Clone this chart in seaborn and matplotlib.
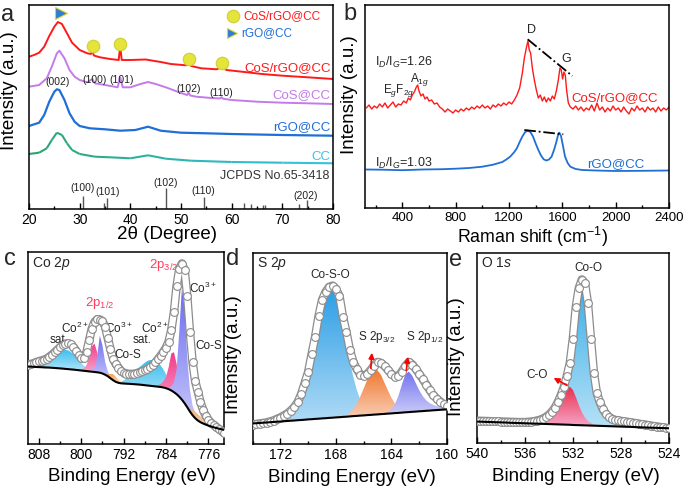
import numpy as np
import matplotlib
matplotlib.use("Agg")
import matplotlib.pyplot as plt
import seaborn as sns
from matplotlib.collections import LineCollection
from matplotlib.colors import LinearSegmentedColormap, to_rgb
from matplotlib.patches import PathPatch
from matplotlib.path import Path
from matplotlib.ticker import MultipleLocator

W, H = 685, 491

# --------------------------------------------------------------------------- #
# (a) XRD patterns (intensity in arbitrary, offset units)
# --------------------------------------------------------------------------- #
xrd_cosrgo_x = [20, 21, 22, 23, 24, 25, 25.7, 26.5, 27.5, 28.5, 30, 31.5, 32.2, 32.5,
                32.8, 34, 36, 37.7, 38.0, 38.3, 40, 43, 46, 48, 51, 51.5, 52, 54, 57,
                58, 59, 62, 66, 70, 75, 80]
xrd_cosrgo_y = [152.3, 154, 156.3, 162.3, 173, 182.3, 187, 185, 175.7, 166.3, 159, 155.7,
                155, 158, 153.5, 151.7, 150, 149, 163, 149, 149, 149.5, 147, 145, 143.7,
                147, 143, 140.7, 139.7, 141.7, 139, 137.3, 135, 133.3, 131.7, 130]
xrd_cos_x = [20, 22, 23.5, 24.5, 25.5, 26, 27, 28, 29, 30, 31.5, 32.5, 33, 35, 37.5, 38,
             38.5, 40, 42, 43.5, 45, 47, 50, 51.2, 51.5, 51.8, 53, 56, 57.7, 58, 58.3, 60,
             65, 70, 75, 80]
xrd_cos_y = [122.3, 124, 130.7, 142.3, 155.7, 158.3, 150.7, 139, 132.3, 129, 126.7, 130,
             125.7, 124, 121.7, 131.7, 121.7, 121.7, 125, 127, 125, 121.7, 116, 114,
             116.5, 113.5, 112.3, 111, 110.5, 111.8, 110.3, 109, 107.3, 106.3, 105.7, 105]
xrd_rgo_x = [20, 22, 23, 24, 25, 25.5, 26, 27, 28, 29, 30, 32, 35, 38, 41, 43.5, 46, 50,
             55, 60, 70, 80]
xrd_rgo_y = [83, 86.3, 94, 107.3, 117.3, 119.7, 119, 109, 95.7, 87.3, 83, 80.7, 79.7,
             78.3, 79, 82.3, 78.3, 76.3, 75.7, 75, 74, 73.3]
xrd_cc_x = [20, 22, 23.5, 24.5, 25.5, 26.5, 27.5, 28.5, 30, 33, 36, 40, 43.5, 47, 52, 60,
            70, 80]
xrd_cc_y = [55, 56.3, 60.7, 69, 76.3, 74, 65.7, 59, 55, 52.3, 51.7, 50.7, 53.7, 50.3,
            48.3, 47, 46.3, 45.7]
jcpds_pos = [30.6, 34.8, 35.3, 47.0, 54.5, 62.4, 63.8, 66.2, 66.6, 73.2, 74.8]
jcpds_h = [13, 6, 11, 21, 12, 6, 5, 4, 4, 5, 9]
cos_peaks_x = [32.6, 38.0, 51.5, 58.0]
cos_peaks_y = [163, 164.7, 149.7, 146.3]

# --------------------------------------------------------------------------- #
# (b) Raman spectra
# --------------------------------------------------------------------------- #
raman_cosrgo_x = [130, 150, 170, 190, 210, 230, 250, 270, 290, 310, 330, 350, 370, 390,
                  410, 430, 445, 460, 475, 490, 505, 515, 525, 540, 555, 570, 585, 600,
                  620, 640, 660, 680, 700, 720, 740, 760, 780, 800, 820, 840, 860, 880,
                  900, 920, 940, 960, 980, 1000, 1020, 1040, 1060, 1080, 1100, 1120, 1140,
                  1160, 1180, 1200, 1220, 1240, 1260, 1280, 1300, 1315, 1330, 1342, 1352,
                  1362, 1375, 1390, 1405, 1420, 1435, 1450, 1465, 1480, 1495, 1510, 1525,
                  1540, 1555, 1570, 1582, 1592, 1602, 1612, 1622, 1632, 1645, 1660, 1680,
                  1700, 1720, 1740, 1760, 1780, 1800, 1820, 1840, 1860, 1880, 1900, 1920,
                  1940, 1960, 1980, 2000, 2020, 2040, 2060, 2080, 2100, 2120, 2140, 2160,
                  2180, 2200, 2220, 2240, 2260, 2280, 2300, 2320, 2340, 2360, 2380, 2400]
raman_cosrgo_y = [100, 103, 99, 102, 100, 104, 101, 105, 100, 103, 106, 101, 104, 103,
                  107, 105, 110, 108, 113, 116, 121, 123, 117, 112, 114, 109, 111, 107,
                  108, 104, 105, 101, 99, 96, 99, 97, 95, 98, 96, 99, 97, 100,
                  98, 101, 99, 102, 100, 103, 100, 102, 99, 103, 101, 104, 102,
                  105, 103, 106, 104, 108, 113, 120, 135, 150, 160, 167, 158,
                  155, 140, 128, 118, 110, 113, 107, 111, 106, 110, 107, 112,
                  109, 117, 128, 140, 138, 129, 136, 133, 118, 105, 101, 99,
                  102, 98, 101, 97, 100, 98, 103, 97, 105, 98, 101, 96,
                  100, 97, 102, 98, 100, 96, 101, 97, 94, 100, 97, 102,
                  98, 100, 96, 101, 98, 100, 96, 101, 97, 100, 98, 101]
raman_rgo_x = [130, 250, 400, 550, 700, 800, 900, 1000, 1080, 1150, 1180, 1210, 1240, 1260,
               1280, 1300, 1320, 1340, 1360, 1380, 1400, 1420, 1440, 1460, 1480, 1500,
               1520, 1540, 1555, 1570, 1578, 1590, 1605, 1620, 1640, 1660, 1700, 1750,
               1850, 2000, 2200, 2400]
raman_rgo_y = [38.5, 38.3, 37.8, 38.5, 38.8, 39.3, 40, 41.3, 43.3, 46, 48.5, 51.5, 56, 60,
               66, 71.5, 75.8, 77.3, 76, 71.5, 64.5, 58, 52.5, 48.7, 47.5, 48.5,
               51.5, 59, 66, 74, 75.3, 72, 62, 51.5, 45, 41.3, 39, 38,
               37.5, 37, 37.2, 37.5]

# --------------------------------------------------------------------------- #
# (c) Co 2p XPS, 0.5 eV steps from 810 to 773 eV
# --------------------------------------------------------------------------- #
co_bg = [77.5, 77.3, 77.2, 77.0, 76.9, 76.8, 76.6, 76.5, 76.4, 76.2,
         76.0, 75.8, 75.6, 75.4, 75.1, 74.9, 74.6, 74.4, 74.1, 73.8,
         73.5, 73.2, 72.9, 72.6, 72.3, 72.0, 71.7, 71.3, 70.5, 69.3,
         67.8, 65.8, 63.8, 62.2, 61.2, 60.7, 60.5, 60.3, 60.2, 60.0,
         59.8, 59.6, 59.4, 59.1, 58.8, 58.5, 58.2, 57.9, 57.6, 57.3,
         57.0, 56.5, 55.8, 54.8, 53.5, 51.8, 49.8, 47.3, 44.3, 40.8,
         36.8, 32.5, 28.8, 25.8, 23.5, 21.8, 20.5, 19.4, 18.4, 17.5,
         16.7, 16.0, 15.3, 14.7, 14.2]
co_env = [79.5, 80, 80.8, 81.8, 82.8, 83.5, 84.3, 85.5, 87.3, 89.5,
          91.8, 94.3, 96.8, 99, 100.3, 100.7, 99.8, 97.2, 93.5, 89.2,
          86, 86.3, 92, 104, 115.5, 122, 124.7, 124.5, 122.8, 117.5,
          106, 95, 85.5, 80, 76.5, 73, 71.3, 70.5, 70.1, 70,
          70.2, 70.8, 71.8, 72.8, 73.8, 75, 76.7, 78.8, 81.6, 85,
          88.5, 92.3, 96.5, 102.5, 114, 132, 158, 175, 180.5, 174,
          148, 112, 82, 63, 52.5, 42, 34, 28, 24.3, 21,
          19.2, 16.8, 15, 12.8, 11]
# components: height above background, starting at the given energy
co_sat1_start, co_sat1 = 810.0, [1.5, 2, 2.5, 3, 3.5, 4.5, 5.5, 7, 9, 11, 13.5, 15.5, 17.3,
                                 18.5, 19, 18.7, 17.5, 15.5, 12.8, 10, 7.3, 5, 3.2, 2,
                                 1.2, 0.6, 0]
co_2p1_co2_start, co_2p1_co2 = 800.0, [1, 2.5, 6, 14, 25, 28.5, 20, 10, 4.5, 2, 1, 0]
co_2p1_co3_start, co_2p1_co3 = 798.0, [1, 4, 16, 37, 28, 13, 5, 2, 0.5, 0]
co_2p1_cos_start, co_2p1_cos = 795.5, [0.5, 2, 4.5, 6, 5, 3, 1.5, 0.5, 0]
co_sat2_start, co_sat2 = 793.0, [0.5, 1.5, 3, 5, 7.5, 10, 12.5, 15, 17.5, 20, 22.5, 24.5,
                                 25.8, 26, 25.5, 24, 21.5, 18, 14, 10, 6.5, 4, 2, 1, 0]
co_2p3_co2_start, co_2p3_co2 = 786.0, [0.5, 1.5, 3, 6, 11, 22, 37, 40, 30, 19, 11, 6.5, 4,
                                       2.5, 1.5, 1, 0.5, 0]
co_2p3_co3_start, co_2p3_co3 = 783.5, [1.5, 4, 10, 25, 65, 112, 95, 50, 22, 10, 5, 2.5,
                                       1.2, 0.5, 0]
co_2p3_cos_start, co_2p3_cos = 780.5, [0.5, 1.5, 3, 5, 6.5, 6.5, 5.5, 4.5, 3.5, 2.5, 1.8,
                                       1.2, 0.8, 0.4, 0.2, 0]

# --------------------------------------------------------------------------- #
# (d) S 2p XPS, 0.25 eV steps from 174 to 160 eV
# --------------------------------------------------------------------------- #
s_bg = [20.5, 20.8, 21.0, 21.3, 21.5, 21.8, 22.0, 22.3, 22.5, 22.8,
        23.0, 23.3, 23.5, 23.8, 24.0, 24.3, 24.6, 24.8, 25.1, 25.3,
        25.6, 25.8, 26.1, 26.3, 26.6, 26.8, 27.1, 27.3, 27.6, 27.9,
        28.1, 28.4, 28.6, 28.9, 29.1, 29.4, 29.6, 29.9, 30.1, 30.4,
        30.6, 30.9, 31.1, 31.4, 31.7, 31.9, 32.2, 32.4, 32.7, 32.9,
        33.2, 33.4, 33.7, 33.9, 34.2, 34.4, 34.7]
s_env = [19.5, 20, 20.5, 21, 21.5, 22.5, 23.5, 25, 26.5, 28.5,
         30.5, 33.5, 37, 42, 50, 61, 72, 90, 107, 128,
         144, 152, 157, 158.3, 155, 148, 127, 112, 94, 82,
         74.7, 69.5, 68, 70, 74, 78.5, 82, 81, 78, 74,
         70, 67.5, 68, 72.5, 78, 82, 79.5, 75, 70, 65,
         59.5, 54, 49, 45.5, 42.5, 40, 38]
s_coso_start, s_coso = 173.0, [0.5, 1, 1.5, 2, 3, 4.5, 6.5, 9.5, 13.5, 19, 26, 36, 47, 61,
                               76, 92, 107, 119, 127, 128, 122, 110, 93, 74, 55, 39, 26,
                               16, 9, 5, 2.5, 1, 0]
s_2p3_start, s_2p3 = 167.5, [0.5, 1.5, 3.5, 7, 12, 19, 27, 35, 42, 45.5, 44, 39, 31, 23,
                             15.5, 9.5, 5.5, 3, 1.5, 0.5, 0]
s_2p1_start, s_2p1 = 164.5, [0.5, 1.5, 4, 9, 17, 28, 38, 40.5, 36, 28.5, 21, 15, 10.5,
                             7.5, 5.5, 4, 3, 2, 1.5]

# --------------------------------------------------------------------------- #
# (e) O 1s XPS, 0.25 eV steps from 540 to 524 eV
# --------------------------------------------------------------------------- #
o_bg = [21.7, 21.6, 21.5, 21.4, 21.3, 21.2, 21.1, 21.0, 20.9, 20.8,
        20.7, 20.5, 20.4, 20.3, 20.2, 20.1, 20.0, 19.9, 19.8, 19.7,
        19.6, 19.5, 19.4, 19.3, 19.2, 19.1, 19.0, 18.9, 18.8, 18.7,
        18.6, 18.5, 18.3, 18.2, 18.1, 18.0, 17.9, 17.8, 17.7, 17.6,
        17.5, 17.4, 17.3, 17.2, 17.1, 17.0, 16.9, 16.8, 16.7, 16.6,
        16.5, 16.4, 16.3, 16.1, 16.0, 15.9, 15.8, 15.7, 15.6, 15.5,
        15.4, 15.3, 15.2, 15.1, 15.0]
o_env = [22.5, 22.4, 22.3, 22.2, 22.1, 22.0, 21.9, 21.8, 21.7, 21.6,
         21.5, 21.4, 21.3, 21.2, 21.1, 21.1, 21.1, 21.3, 21.6, 22.0,
         22.6, 23.4, 24.6, 26.2, 28.4, 31.5, 35.5, 41, 48, 56,
         67, 80, 104, 136, 155, 163.5, 160, 140, 104, 70,
         50, 41, 34, 29.5, 26.5, 24.5, 23.3, 22.8, 22.3, 21.8,
         21.4, 21.0, 20.5, 20.0, 19.5, 19.0, 18.6, 18.1, 17.6, 17.1,
         16.7, 16.2, 15.8, 15.4, 15.0]
o_coo_start, o_coo = 535.0, [0.5, 0.8, 1.2, 1.8, 2.5, 3.5, 5, 7.5, 11, 17, 27, 45, 75, 112,
                             137, 143.5, 135, 112, 78, 48, 29, 18, 12, 8, 5.5, 4, 3, 2,
                             1.5, 1, 0.6, 0.3, 0]
o_co_start, o_co = 534.5, [0.5, 1.5, 3, 5.5, 9.5, 15, 22, 30, 36, 38, 35, 28, 20, 13, 8,
                           4.5, 2.5, 1.2, 0.5, 0]

co_x = np.arange(810, 772.75, -0.5)
s_x = np.arange(174, 159.9, -0.25)
o_x = np.arange(540, 523.9, -0.25)

# --------------------------------------------------------------------------- #
sns.set_theme(style="ticks")
plt.rcParams["font.family"] = ["Liberation Sans", "DejaVu Sans"]
plt.rcParams["mathtext.fontset"] = "custom"
plt.rcParams["mathtext.rm"] = "Liberation Sans"
plt.rcParams["mathtext.it"] = "Liberation Sans:italic"
plt.rcParams["mathtext.bf"] = "Liberation Sans:bold"

fig = plt.figure(figsize=(W / 100, H / 100), dpi=100)


def axes_px(left, top, right, bottom):
    return fig.add_axes([left / W, 1 - bottom / H, (right - left) / W, (bottom - top) / H])


def style_axes(ax, major, minor, labelsize=10):
    ax.xaxis.set_major_locator(MultipleLocator(major))
    ax.xaxis.set_minor_locator(MultipleLocator(minor))
    ax.tick_params(axis="x", which="both", direction="in", bottom=True, top=False,
                   labelsize=labelsize, pad=3, color="black", labelcolor="black")
    ax.tick_params(axis="x", which="major", length=4, width=1)
    ax.tick_params(axis="x", which="minor", length=2.5, width=1)
    ax.set_yticks([])
    for sp in ax.spines.values():
        sp.set_color("black")
        sp.set_linewidth(1.1)


def grad_fill(ax, x, lo, hi, top, bottom=None, z=2):
    x, lo, hi = (np.asarray(v, float) for v in (x, lo, hi))
    if bottom is None:
        c = np.array(to_rgb(top))
        bottom = c + (1 - c) * 0.62
    verts = np.concatenate([np.column_stack([x, hi]), np.column_stack([x[::-1], lo[::-1]])])
    patch = PathPatch(Path(verts), facecolor="none", edgecolor="none")
    ax.add_patch(patch)
    cmap = LinearSegmentedColormap.from_list("fill", [bottom, top])
    im = ax.imshow(np.linspace(0, 1, 64).reshape(-1, 1), cmap=cmap, aspect="auto",
                   origin="lower", extent=[x.min(), x.max(), lo.min(), hi.max()],
                   zorder=z, interpolation="bilinear")
    im.set_clip_path(patch)


def component(ax, grid, bg, start, rel, color, step, z=2, bottom=None):
    i0 = int(round((grid[0] - start) / step))
    sl = slice(i0, i0 + len(rel))
    base = np.asarray(bg)[sl]
    grad_fill(ax, grid[sl], base, base + np.asarray(rel), color, bottom, z)


def envelope(ax, x, y):
    ax.plot(x, y, color="#8c8c8c", lw=6.2, zorder=3, solid_capstyle="round")
    ax.plot(x, y, color="white", lw=4.4, zorder=3.1, solid_capstyle="round")
    ax.plot(x, y, ls="none", marker="o", ms=5.6, mfc="white", mec="#8c8c8c", mew=0.8,
            zorder=3.2)


def ylabel(ax, xf, yf):
    ax.set_ylabel("Intensity (a.u.)", fontsize=13.5, color="black")
    ax.yaxis.set_label_coords(xf, yf)


def xlabel(ax, text, xf, yf, size=13.5):
    ax.set_xlabel(text, fontsize=size, color="black")
    ax.xaxis.set_label_coords(xf, yf)


# ---------------- (a) ----------------
ax = axes_px(29, 5, 333, 209)
sns.lineplot(x=xrd_cosrgo_x, y=xrd_cosrgo_y, ax=ax, color="#FF1A1A", lw=1.4)
sns.lineplot(x=xrd_cos_x, y=xrd_cos_y, ax=ax, color="#C47BEA", lw=1.4)
sns.lineplot(x=xrd_rgo_x, y=xrd_rgo_y, ax=ax, color="#1F6FD6", lw=1.6)
pts = np.column_stack([xrd_cc_x, xrd_cc_y])
segs = np.stack([pts[:-1], pts[1:]], axis=1)
cc_cmap = LinearSegmentedColormap.from_list("cc", ["#2AA56E", "#30B7B8", "#3CC6EE"])
lc = LineCollection(segs, cmap=cc_cmap, lw=1.5)
lc.set_array(np.asarray(xrd_cc_x[:-1], float))
lc.set_clim(20, 80)
ax.add_collection(lc)
ax.vlines(jcpds_pos, 0, jcpds_h, color="#555555", lw=1)
ax.plot(cos_peaks_x, cos_peaks_y, ls="none", marker="o", ms=9, mfc="#E4E43A",
        mec="#CFCF3A", mew=0.8)
ax.plot([60.3], [193], ls="none", marker="o", ms=9, mfc="#E4E43A", mec="#CFCF3A", mew=0.8)
ax.plot([60.1], [175.7], ls="none", marker=">", ms=7.5, mfc="#2C80D2", mec="#E8D030",
        mew=0.8)
ax.plot([26.3], [195.7], ls="none", marker=">", ms=8, mfc="#2C80D2", mec="#E8D030", mew=0.8)
ax.text(62.3, 193, "CoS/rGO@CC", color="#FF1A1A", fontsize=8.5, va="center")
ax.text(61.8, 175.7, "rGO@CC", color="#1F6FD6", fontsize=8.5, va="center")
for txt, col, yy in [("CoS/rGO@CC", "#FF1A1A", 140.7), ("CoS@CC", "#C47BEA", 114),
                     ("rGO@CC", "#1F6FD6", 82.3), ("CC", "#3CC3E6", 52.3)]:
    ax.text(79.5, yy, txt, color=col, fontsize=9.5, ha="right", va="center")
for txt, xx, yy in [("(002)", 25.6, 127.3), ("(100)", 33, 129), ("(101)", 38.2, 129),
                    ("(102)", 51.6, 119.7), ("(110)", 58, 116.3), ("(100)", 30.6, 20.7),
                    ("(101)", 35.5, 16.7), ("(102)", 47.0, 26.3), ("(110)", 54.4, 18.3),
                    ("(202)", 74.5, 13.3)]:
    ax.text(xx, yy, txt, fontsize=7.5, ha="center", va="center", color="#222222")
ax.text(79.2, 33.3, "JCPDS No.65-3418", fontsize=9, ha="right", va="center",
        color="#333333")
ax.set_xlim(20, 80)
ax.set_ylim(0, 204)
style_axes(ax, 10, 5)
xlabel(ax, "2θ (Degree)", 0.454, -0.085)
ylabel(ax, -0.036, 0.578)

# ---------------- (b) ----------------
ax = axes_px(365, 5, 669, 208)
sns.lineplot(x=raman_cosrgo_x, y=raman_cosrgo_y, ax=ax, color="#FF1A1A", lw=1.0)
sns.lineplot(x=raman_rgo_x, y=raman_rgo_y, ax=ax, color="#1F6FD6", lw=1.3)
ax.plot([1340, 1675], [168.7, 132], color="black", ls="-.", lw=1.3)
ax.plot([1315, 1607], [78, 73.7], color="black", ls="-.", lw=1.3)
ax.text(1365, 178, "D", fontsize=9, ha="center", va="center")
ax.text(1627, 149, "G", fontsize=9, ha="center", va="center")
ax.text(195, 145.3, "I$_D$/I$_G$=1.26", fontsize=9, va="center")
ax.text(195, 44.7, "I$_D$/I$_G$=1.03", fontsize=9, va="center")
ax.text(370, 117, "E$_g$F$_{2g}$", fontsize=8.5, ha="center", va="center")
ax.text(527, 128, "A$_{1g}$", fontsize=8.5, ha="center", va="center")
ax.text(1991, 109.7, "CoS/rGO@CC", color="#FF1A1A", fontsize=9.5, ha="center", va="center")
ax.text(1998, 44, "rGO@CC", color="#1F6FD6", fontsize=9.5, ha="center", va="center")
ax.set_xlim(120, 2400)
ax.set_ylim(0, 203)
style_axes(ax, 400, 200, labelsize=9.5)
xlabel(ax, "Raman shift (cm$^{-1}$)", 0.55, -0.082, size=12.8)
ylabel(ax, -0.024, 0.56)

# ---------------- (c) ----------------
ax = axes_px(28.3, 252, 224.3, 444)
for start, rel, col in [(co_sat1_start, co_sat1, "#3CBEF0"), (co_sat2_start, co_sat2, "#3CBEF0"),
                        (co_2p1_co2_start, co_2p1_co2, "#F23C8C"),
                        (co_2p1_co3_start, co_2p1_co3, "#6C6CF2"),
                        (co_2p1_cos_start, co_2p1_cos, "#F5A05A"),
                        (co_2p3_co2_start, co_2p3_co2, "#F23C8C"),
                        (co_2p3_co3_start, co_2p3_co3, "#6C6CF2"),
                        (co_2p3_cos_start, co_2p3_cos, "#F5A05A")]:
    component(ax, co_x, co_bg, start, rel, col, 0.5)
envelope(ax, co_x, co_env)
ax.plot(co_x, co_bg, color="black", lw=1.5, zorder=5)
ax.text(0.02, 0.985, "Co $\\mathit{2p}$", transform=ax.transAxes, fontsize=10, va="top")
ax.text(796.5, 140.7, "2p$_{1/2}$", color="#FF3B5C", fontsize=9.5, ha="center", va="center")
ax.text(784.5, 179, "2p$_{3/2}$", color="#FF3B5C", fontsize=9.5, ha="center", va="center")
for txt, xx, yy in [("sat.", 804.2, 104), ("Co$^{2+}$", 801.2, 115.7),
                    ("Co$^{3+}$", 793.0, 115.7), ("Co-S", 791.2, 89),
                    ("Co$^{2+}$", 786.1, 115.7), ("sat.", 788.6, 104),
                    ("Co$^{3+}$", 777.0, 155.7), ("Co-S", 776.0, 98)]:
    ax.text(xx, yy, txt, fontsize=8.5, ha="center", va="center")
ax.set_xlim(810, 773)
ax.set_ylim(0, 192)
style_axes(ax, 8, 4)
xlabel(ax, "Binding Energy (eV)", 0.53, -0.125)

# ---------------- (d) ----------------
ax = axes_px(252.7, 253, 447, 444)
component(ax, s_x, s_bg, s_coso_start, s_coso, "#2E9FE6", 0.25)
component(ax, s_x, s_bg, s_2p3_start, s_2p3, "#F07830", 0.25)
component(ax, s_x, s_bg, s_2p1_start, s_2p1, "#7474EE", 0.25)
envelope(ax, s_x, s_env)
ax.plot(s_x, s_bg, color="black", lw=1.5, zorder=5)
ax.annotate("", xy=(165.4, 94), xytext=(165.5, 73),
            arrowprops=dict(arrowstyle="-|>", color="red", lw=1.2, mutation_scale=8), zorder=6)
ax.annotate("", xy=(162.8, 90), xytext=(162.95, 71),
            arrowprops=dict(arrowstyle="-|>", color="red", lw=1.2, mutation_scale=8), zorder=6)
ax.text(0.02, 0.99, "S $\\mathit{2p}$", transform=ax.transAxes, fontsize=10, va="top")
ax.text(168.4, 169, "Co-S-O", fontsize=8.5, ha="center", va="center")
ax.text(165.1, 107.3, "S 2p$_{3/2}$", fontsize=8.5, ha="center", va="center")
ax.text(161.6, 107.3, "S 2p$_{1/2}$", fontsize=8.5, ha="center", va="center")
ax.set_xlim(174, 160)
ax.set_ylim(0, 191)
style_axes(ax, 4, 2)
xlabel(ax, "Binding Energy (eV)", 0.51, -0.13)
ylabel(ax, -0.055, 0.466)

# ---------------- (e) ----------------
ax = axes_px(476.7, 253, 669, 443.3)
component(ax, o_x, o_bg, o_coo_start, o_coo, "#3AAEE8", 0.25)
component(ax, o_x, o_bg, o_co_start, o_co, "#E8304A", 0.25, bottom="#F6A3C8")
envelope(ax, o_x, o_env)
ax.plot(o_x, o_bg, color="black", lw=1.5, zorder=5)
ax.annotate("", xy=(533.8, 66.6), xytext=(532.3, 56.6),
            arrowprops=dict(arrowstyle="-|>", color="red", lw=1.2, mutation_scale=8), zorder=6)
ax.text(0.02, 0.985, "O $\\mathit{1s}$", transform=ax.transAxes, fontsize=10, va="top")
ax.text(530.7, 175, "Co-O", fontsize=8.5, ha="center", va="center")
ax.text(534.95, 68, "C-O", fontsize=8.5, ha="center", va="center")
ax.set_xlim(540, 524)
ax.set_ylim(0, 190)
style_axes(ax, 4, 2)
xlabel(ax, "Binding Energy (eV)", 0.515, -0.13)
ylabel(ax, -0.061, 0.454)

for lab, px, py in [("a", 8, 21), ("b", 350, 20), ("c", 10, 265), ("d", 233, 265),
                    ("e", 456, 266)]:
    fig.text(px / W, 1 - py / H, lab, fontsize=17, ha="center", va="baseline")

fig.savefig("out.png", dpi=100)
